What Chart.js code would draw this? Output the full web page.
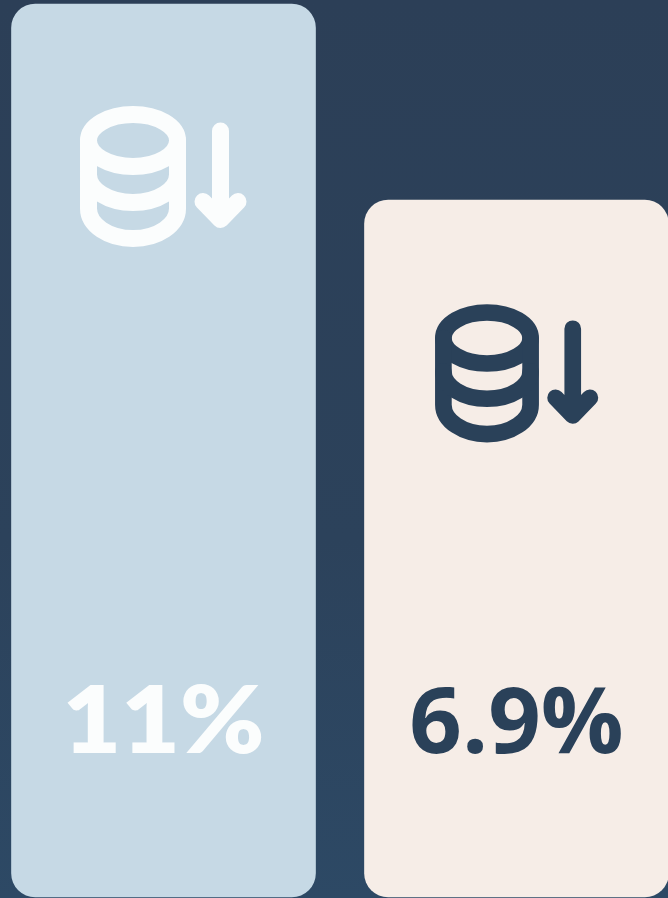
<!DOCTYPE html>
<html>
<head>
<meta charset="utf-8">
<style>
html,body{margin:0;padding:0;width:668px;height:898px;overflow:hidden;background:linear-gradient(180deg,#2c3f57 0%,#2c425b 60%,#2d4965 100%);}
canvas{display:block;}
</style>
<script src="https://cdn.jsdelivr.net/npm/chart.js@4/dist/chart.umd.min.js"></script>
</head>
<body>
<canvas id="c" width="668" height="898"></canvas>
<script>
const categories = ["A", "B"];
const values = [11, 6.9];
const valueLabels = ["11%", "6.9%"];
const barColors = ["#c6d9e5", "#f6ede7"];
const inkColors = ["#fbfdfd", "#2a4159"];

const iconPlugin = {
  id: "icons",
  afterDatasetsDraw(chart) {
    const ctx = chart.ctx;
    const bars = chart.getDatasetMeta(0).data;
    const placements = [
      {dx: -30.5, dy: 136.5, s: 1, tx: 1.1, font: "800 92px Lato, sans-serif"},
      {dx: -29.5, dy: 138, s: 0.98, tx: 1, font: "700 92px 'Open Sans', sans-serif"}
    ];
    bars.forEach((bar, i) => {
      const p = placements[i];
      ctx.save();
      ctx.translate(bar.x + p.dx, bar.y + p.dy);
      ctx.scale(p.s, p.s);
      ctx.strokeStyle = inkColors[i];
      ctx.lineWidth = 17;
      ctx.lineCap = "round";
      ctx.lineJoin = "round";
      const rx = 44.5, ry = 26, sp = 36;
      ctx.beginPath();
      ctx.ellipse(0, 0, rx, ry, 0, 0, Math.PI * 2);
      ctx.stroke();
      ctx.beginPath();
      ctx.moveTo(-rx, 0);
      ctx.lineTo(-rx, 2 * sp - 4);
      ctx.ellipse(0, 2 * sp - 4, rx, ry + 4, 0, Math.PI, 0, true);
      ctx.lineTo(rx, 0);
      ctx.stroke();
      ctx.beginPath();
      ctx.ellipse(0, sp - 2, rx, ry + 2, 0, Math.PI, 0, true);
      ctx.stroke();
      ctx.beginPath();
      ctx.moveTo(87.5, -9.5);
      ctx.lineTo(87.5, 79);
      ctx.moveTo(70, 61);
      ctx.lineTo(87.5, 79);
      ctx.lineTo(105, 61);
      ctx.stroke();
      ctx.restore();

      ctx.save();
      ctx.translate(bar.x, 753);
      ctx.scale(p.tx, 1);
      ctx.font = p.font;
      ctx.textAlign = "center";
      ctx.textBaseline = "alphabetic";
      ctx.fillStyle = inkColors[i];
      ctx.fillText(valueLabels[i], 0, 0);
      ctx.restore();
    });
  }
};

new Chart(document.getElementById("c"), {
  type: "bar",
  data: {
    labels: categories,
    datasets: [{
      data: values.map((v, i) => ({x: i, y: v})),
      base: -7.68,
      backgroundColor: barColors,
      borderWidth: 0,
      borderRadius: 24,
      borderSkipped: false,
      barThickness: 304
    }]
  },
  options: {
    responsive: false,
    animation: false,
    layout: {padding: 0},
    plugins: {legend: {display: false}, tooltip: {enabled: false}, title: {display: false}},
    scales: {
      x: {type: "linear", display: false, offset: false, min: -0.4632, max: 1.4292},
      y: {display: false, min: -7.70, max: 11.084}
    }
  },
  plugins: [iconPlugin]
});
</script>
</body>
</html>
